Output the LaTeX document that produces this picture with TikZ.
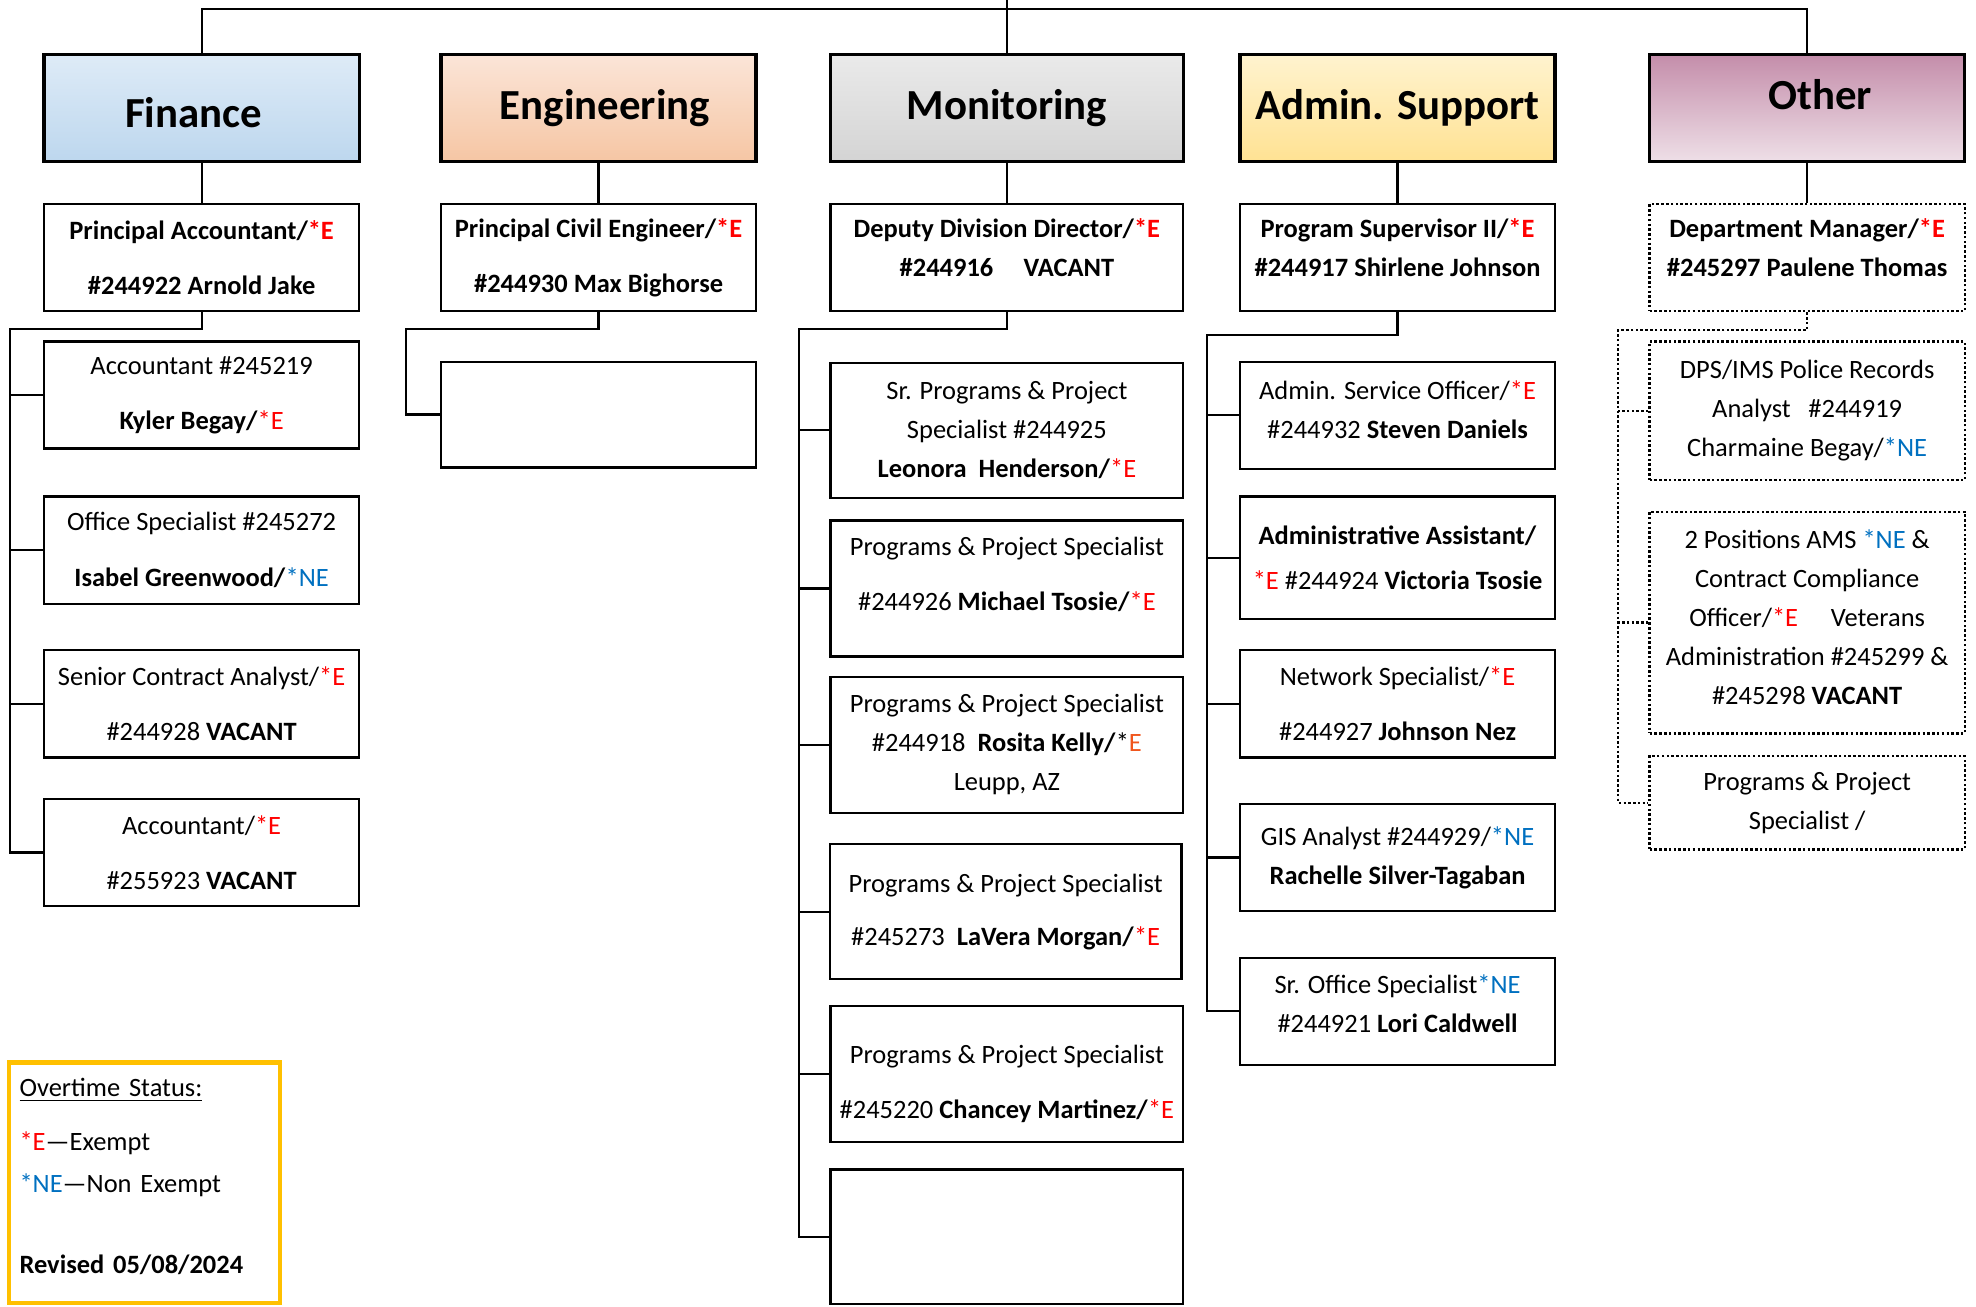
\documentclass[tikz,border=0pt]{standalone}
\usepackage{fontspec}
\setmainfont{Carlito}
\usepackage{tikz}

\definecolor{exred}{HTML}{FF0000}
\definecolor{nexblue}{HTML}{0070C0}
\definecolor{leuppE}{HTML}{F0561D}
\definecolor{keyorange}{HTML}{FFC000}
\definecolor{finTop}{HTML}{DEEBF7}
\definecolor{finBot}{HTML}{BDD7EE}
\definecolor{engTop}{HTML}{FBE5D8}
\definecolor{engBot}{HTML}{F6C6A4}
\definecolor{monTop}{HTML}{EAEAEA}
\definecolor{monBot}{HTML}{D4D4D4}
\definecolor{admTop}{HTML}{FFF3CF}
\definecolor{admBot}{HTML}{FFE293}
\definecolor{othTop}{HTML}{C48DAA}
\definecolor{othBot}{HTML}{EEDFE7}

\newcommand{\Ex}{\textcolor{exred}{*E}}
\newcommand{\NEx}{\textcolor{nexblue}{*NE}}
% move a block of lines up (or down) inside its box
\newcommand{\shiftup}[2]{\raisebox{#1}[\height][\depth]{\begin{tabular}{@{}c@{}}#2\end{tabular}}}

\tikzset{
  head/.style={draw, line width=1.3pt, font=\fontsize{17pt}{20pt}\selectfont\bfseries,
    minimum width=125pt, minimum height=42.5pt},
  pbox/.style={draw, line width=0.9pt, align=center, inner sep=2pt,
    font=\fontsize{10.5pt}{15.5pt}\selectfont, minimum width=125pt, minimum height=42.5pt},
  vbox/.style={pbox, dash pattern=on 1pt off 0.9pt},
  link/.style={line width=0.9pt},
  vlink/.style={link, dash pattern=on 1pt off 0.9pt},
}

\begin{document}
\begin{tikzpicture}[x=0.5pt,y=-0.5pt]
\useasboundingbox (0,0) rectangle (1568,1037);

% division heads
\node (fin) at (160,85.5) [head, top color=finTop, bottom color=finBot] {\raisebox{-1.75pt}[\height][\depth]{Finance}\kern6.5pt};
\node (eng) at (475,85.5) [head, top color=engTop, bottom color=engBot] {\hspace{5pt}Engineering};
\node (mon) at (799,85.5) [head, minimum width=140pt, top color=monTop, bottom color=monBot] {Monitoring};
\node (adm) at (1109,85.5) [head, top color=admTop, bottom color=admBot] {Admin. Support};
\node (oth) at (1434,85.5) [head, top color=othTop, bottom color=othBot] {\hspace{10.5pt}\raisebox{5.25pt}[\height][\depth]{Other}};

\coordinate (root) at (799,0);
\coordinate (topbar) at (799,7);
\draw[link] (root) -- (mon.north);
\draw[link] (fin.north) |- (topbar) -| (oth.north);

% lead positions
\node (fin0) at (160,204.5) [pbox] {\textbf{Principal Accountant/\Ex}\\[6.5pt] \textbf{\#244922 Arnold Jake}};
\node (eng0) at (475,204.5) [pbox] {\textbf{Principal Civil Engineer/\Ex}\\[6.5pt] \textbf{\#244930 Max Bighorse}};
\node (mon0) at (799,204.5) [pbox, minimum width=140pt] {\shiftup{3.25pt}{\textbf{Deputy Division Director/\Ex}\\ \textbf{\#244916\hspace{12pt}VACANT}}};
\node (adm0) at (1109,204.5) [pbox] {\shiftup{3.25pt}{\textbf{Program Supervisor II/\Ex}\\ \textbf{\#244917 Shirlene Johnson}}};
\node (oth0) at (1434,204.5) [vbox] {\shiftup{3.25pt}{\textbf{Department Manager/\Ex}\\ \textbf{\#245297 Paulene Thomas}}};

\foreach \d in {fin,eng,mon,adm,oth}
  \draw[link] (\d.south) -- (\d0.north);

% Finance
\node (f1) at (160,313.5) [pbox] {Accountant \#245219\\[6.5pt] \textbf{Kyler Begay/}\Ex};
\node (f2) at (160,436.5) [pbox] {Office Specialist \#245272\\[6.5pt] \textbf{Isabel Greenwood/}\NEx};
\node (f3) at (160,558.5) [pbox] {Senior Contract Analyst/\Ex\\[6.5pt] \#244928 \textbf{VACANT}};
\node (f4) at (160,676.5) [pbox] {Accountant/\Ex\\[6.5pt] \#255923 \textbf{VACANT}};
\coordinate (fbus) at (8,261);
\draw[link] (fin0.south) |- (fbus) |- (f4.west);
\foreach \n in {f1,f2,f3}
  \draw[link] (\n.west) -- (\n.west -| fbus);

% Engineering
\node (e1) at (475,329) [pbox, minimum height=42pt] {};
\coordinate (ebus) at (322,261);
\draw[link] (eng0.south) |- (ebus) |- (e1.west);

% Monitoring
\node (m1) at (799,341.5) [pbox, minimum width=140pt, minimum height=53.5pt] {Sr. Programs \& Project\\ Specialist \#244925\\ \textbf{Leonora\ \ Henderson/}\Ex};
\node (m2) at (799,467) [pbox, minimum width=140pt, minimum height=54pt] {\shiftup{5.25pt}{Programs \& Project Specialist\\[6.5pt] \#244926 \textbf{Michael Tsosie/}\Ex}};
\node (m3) at (799,591) [pbox, minimum width=140pt, minimum height=54pt] {Programs \& Project Specialist\\ \#244918\ \ \textbf{Rosita Kelly/}*\textcolor{leuppE}{E}\\ Leupp, AZ};
\node (m4) at (798,723.5) [pbox, minimum width=139.5pt, minimum height=53.5pt] {Programs \& Project Specialist\\[5.5pt] \#245273\ \ \textbf{LaVera Morgan/}\Ex};
\node (m5) at (799,852) [pbox, minimum width=140pt, minimum height=54pt] {\shiftup{-3.75pt}{Programs \& Project Specialist\\[6pt] \#245220 \textbf{Chancey Martinez/}\Ex}};
\node (m6) at (799,981.5) [pbox, minimum width=140pt, minimum height=53.5pt] {};
\coordinate (mbus) at (634,261);
\draw[link] (mon0.south) |- (mbus) |- (m6.west);
\foreach \n in {m1,m2,m3,m4,m5}
  \draw[link] (\n.west) -- (\n.west -| mbus);

% Admin. Support
\node (a1) at (1109,329.5) [pbox] {\shiftup{1.5pt}{Admin. Service Officer/\Ex\\ \#244932 \textbf{Steven Daniels}}};
\node (a2) at (1109,442.5) [pbox, minimum height=48.5pt] {\textbf{Administrative Assistant/}\\[2.5pt] \Ex\ \#244924 \textbf{Victoria Tsosie}};
\node (a3) at (1109,558.5) [pbox] {Network Specialist/\Ex\\[6.5pt] \#244927 \textbf{Johnson Nez}};
\node (a4) at (1109,680.5) [pbox] {GIS Analyst \#244929/\NEx\\ \textbf{Rachelle Silver-Tagaban}};
\node (a5) at (1109,802.5) [pbox] {\shiftup{2.5pt}{Sr. Office Specialist\NEx\\ \#244921 \textbf{Lori Caldwell}}};
\coordinate (abus) at (958,266);
\draw[link] (adm0.south) |- (abus) |- (a5.west);
\foreach \n in {a1,a2,a3,a4}
  \draw[link] (\n.west) -- (\n.west -| abus);

% Other
\node (o1) at (1434,326) [vbox, minimum height=55pt] {DPS/IMS Police Records\\ Analyst\hspace{7pt}\#244919\\ Charmaine Begay/\NEx};
\node (o2) at (1434,494) [vbox, minimum height=88pt] {\shiftup{1.5pt}{2 Positions AMS \NEx\ \&\\ Contract Compliance\\ Officer/\Ex\hspace{13pt}Veterans\\ Administration \#245299 \&\\ \#245298 \textbf{VACANT}}};
\node (o3) at (1434,637) [vbox, minimum height=37pt] {Programs \& Project\\ Specialist /};
\coordinate (obus) at (1284,262);
\draw[vlink] (oth0.south) |- (obus) |- (o3.west);
\foreach \n in {o1,o2}
  \draw[vlink] (\n.west) -- (\n.west -| obus);

% key
\node (key) at (114.5,938.5) [draw=keyorange, line width=1.7pt, minimum width=107.5pt, minimum height=95.5pt,
  text width=99pt, inner xsep=4pt, align=left, font=\fontsize{10.5pt}{15.5pt}\selectfont]
  {\underline{Overtime Status:}\\[6pt] \Ex---Exempt\\[1pt] \NEx---Non Exempt\\[16.5pt] \textbf{Revised 05/08/2024}\\[-10pt]\mbox{}};
\end{tikzpicture}
\end{document}
